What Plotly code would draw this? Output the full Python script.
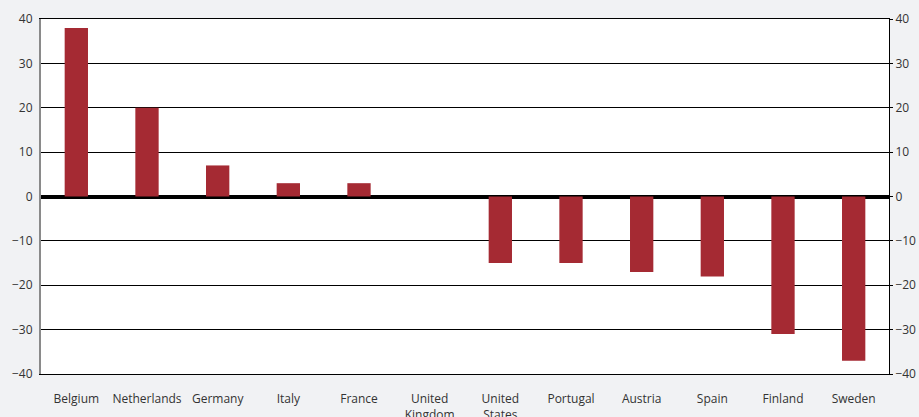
import plotly.graph_objects as go

countries = ["Belgium", "Netherlands", "Germany", "Italy", "France", "United<br>Kingdom",
             "United<br>States", "Portugal", "Austria", "Spain", "Finland", "Sweden"]
values = [38, 20, 7, 3, 3, 0, -15, -15, -17, -18, -31, -37]
tick_vals = [-40, -30, -20, -10, 0, 10, 20, 30, 40]
tick_text = ["\u221240", "\u221230", "\u221220", "\u221210", "0", "10", "20", "30", "40"]

bar_color = "#a52a33"
font = dict(family="Open Sans", size=12, color="#333333")

fig = go.Figure()
fig.add_trace(go.Bar(x=countries, y=values, marker=dict(color=bar_color, line=dict(width=0)),
                     showlegend=False, hoverinfo="skip"))
fig.add_trace(go.Scatter(x=countries, y=[None] * len(countries), yaxis="y2",
                         showlegend=False, hoverinfo="skip"))

fig.update_layout(
    width=919, height=417,
    margin=dict(l=41, r=30, t=19, b=43),
    paper_bgcolor="#f1f2f4",
    plot_bgcolor="#ffffff",
    font=font,
    bargap=0.67,
    xaxis=dict(range=[-0.5, len(countries) - 0.5],
               showgrid=False, showline=True, mirror=True, linecolor="#000000", linewidth=1,
               ticks="", tickfont=font, automargin=False,
               ticklabelstandoff=14),
    yaxis=dict(range=[-40, 40], tickvals=tick_vals, ticktext=tick_text,
               showgrid=True, gridcolor="#000000", gridwidth=1,
               zeroline=True, zerolinecolor="#000000", zerolinewidth=4,
               showline=True, linecolor="#8a8a8a", linewidth=2,
               ticks="outside", ticklen=4, tickcolor="rgba(0,0,0,0)",
               tickfont=font, automargin=False),
    yaxis2=dict(range=[-40, 40], tickvals=tick_vals, ticktext=tick_text,
                overlaying="y", side="right", showgrid=False, zeroline=False,
                showline=True, linecolor="#000000", linewidth=1,
                ticks="outside", ticklen=3, tickcolor="#000000",
                tickfont=font, automargin=False),
)

fig.write_html("out.html")
